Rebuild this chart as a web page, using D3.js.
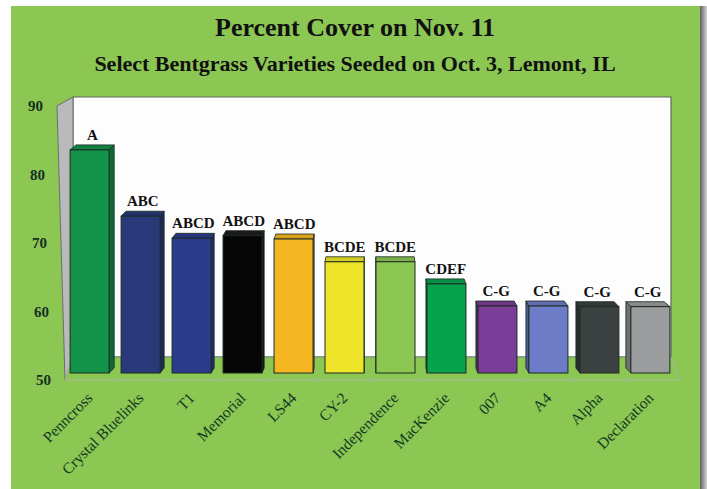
<!DOCTYPE html>
<html>
<head>
<meta charset="utf-8">
<script src="https://cdn.jsdelivr.net/npm/d3@7"></script>
<style>
  html, body { margin: 0; padding: 0; background: #fff; }
  svg { display: block; }
</style>
</head>
<body>
<div id="chart"></div>
<script>
// values
const varieties = ['Penncross', 'Crystal Bluelinks', 'T1', 'Memorial', 'LS44', 'CY-2',
                   'Independence', 'MacKenzie', '007', 'A4', 'Alpha', 'Declaration'];
const cover = [83.3, 73.4, 70.1, 70.5, 70.0, 66.6, 66.6, 63.3, 60.0, 60.0, 59.9, 59.9];
const letters = ['A', 'ABC', 'ABCD', 'ABCD', 'ABCD', 'BCDE', 'BCDE', 'CDEF', 'C-G', 'C-G', 'C-G', 'C-G'];
const yTicks = [50, 60, 70, 80, 90];

const palette = ['#13924a', '#29397a', '#2b3c8c', '#050505', '#f6b622', '#eee52a',
                 '#8cc653', '#06a34d', '#7a3d98', '#6c7cc6', '#3a4140', '#9a9c9d'];

const W = 707, H = 489;
const green = '#8cc653';
const serif = '"Liberation Serif", "Times New Roman", serif';

const svg = d3.select('#chart').append('svg')
  .attr('width', W).attr('height', H);

// panel + shadow
const defs = svg.append('defs');
const grad = defs.append('linearGradient').attr('id', 'shade');
grad.append('stop').attr('offset', '0%').attr('stop-color', '#4e504e');
grad.append('stop').attr('offset', '100%').attr('stop-color', '#d4d4d4');

svg.append('rect').attr('width', W).attr('height', H).attr('fill', '#fff');
svg.append('rect').attr('x', 699).attr('y', 6).attr('width', 8).attr('height', H - 6)
  .attr('fill', 'url(#shade)');
svg.append('rect').attr('x', 11).attr('y', 6).attr('width', 689).attr('height', H - 6)
  .attr('fill', green);

// titles
svg.append('text')
  .attr('x', 355).attr('y', 36)
  .attr('text-anchor', 'middle')
  .style('font-family', serif).style('font-weight', 'bold').style('font-size', '26px')
  .attr('fill', '#111')
  .text('Percent Cover on Nov. 11');

svg.append('text')
  .attr('x', 355).attr('y', 71)
  .attr('text-anchor', 'middle')
  .style('font-family', serif).style('font-weight', 'bold').style('font-size', '22px')
  .attr('fill', '#111')
  .text('Select Bentgrass Varieties Seeded on Oct. 3, Lemont, IL');

// 3d box: back wall, left wall, floor
const back = { x0: 73, x1: 671, top: 97, bottom: 357 };
const front = { x0: 65, x1: 680, bottom: 380 };

const yFront = d3.scaleLinear().domain([50, 90]).range([380, 106]);
const yBar = d3.scaleLinear().domain([50, 90]).range([373, 105]);

const x = d3.scaleBand()
  .domain(varieties)
  .range([64, 676])
  .paddingInner(0.235)
  .paddingOuter(0.12);

const line = d3.line();

svg.append('path')
  .attr('d', line([[back.x0, back.top], [back.x1, back.top], [back.x1, back.bottom], [back.x0, back.bottom]]) + 'Z')
  .attr('fill', '#fdfdfd').attr('stroke', '#5d6b5f').attr('stroke-width', 1.2);

svg.append('path')
  .attr('d', line([[57, 106], [back.x0, back.top], [back.x0, back.bottom], [front.x0, front.bottom]]) + 'Z')
  .attr('fill', '#b9babb').attr('stroke', '#6b6f6c').attr('stroke-width', 1);

svg.append('path')
  .attr('d', line([[back.x0, back.bottom], [back.x1, back.bottom], [front.x1, front.bottom], [front.x0, front.bottom]]) + 'Z')
  .attr('fill', green).attr('stroke', '#a9b8a6').attr('stroke-width', 1);

svg.append('line')
  .attr('x1', back.x0).attr('x2', back.x1).attr('y1', back.bottom).attr('y2', back.bottom)
  .attr('stroke', '#6f8a68').attr('stroke-width', 1);

// category ticks on the front floor edge
const step = x.step();
svg.append('g').selectAll('line')
  .data(varieties.slice(0, -1))
  .enter().append('line')
  .attr('x1', d => x(d) + x.bandwidth() + (step - x.bandwidth()) / 2)
  .attr('x2', d => x(d) + x.bandwidth() + (step - x.bandwidth()) / 2)
  .attr('y1', front.bottom).attr('y2', front.bottom + 3)
  .attr('stroke', '#a9b8a6');

// y labels follow the slanted front edge of the side wall
const edgeX = d3.scaleLinear().domain([106, 380]).range([57, 65]);
svg.append('g').selectAll('text')
  .data(yTicks)
  .enter().append('text')
  .attr('x', d => edgeX(yFront(d)) - 14)
  .attr('y', d => yFront(d) + 5)
  .attr('text-anchor', 'end')
  .style('font-family', serif).style('font-weight', 'bold').style('font-size', '15px')
  .attr('fill', '#14301f')
  .text(d => d);

// bars, drawn with a small perspective shift toward a vanishing x
const vx = 372, k = 0.0193, depthY = -5;
const shift = px => (vx - px) * k;

const bars = svg.append('g').selectAll('g')
  .data(varieties.map((v, i) => ({ name: v, value: cover[i], letter: letters[i], color: palette[i] })))
  .enter().append('g');

bars.each(function (d) {
  const g = d3.select(this);
  const x0 = x(d.name), x1 = x0 + x.bandwidth();
  const yt = yBar(d.value), yb = yBar(50);
  const d0 = shift(x0), d1 = shift(x1);
  const c = d3.color(d.color);
  const topCol = d.name === 'Memorial' ? '#1a1a1a' : c.darker(0.35);
  const sideCol = d.name === 'Memorial' ? '#111' : c.darker(0.9);

  // side face
  if (d1 > 0) {
    g.append('path')
      .attr('d', line([[x1, yt], [x1 + d1, yt + depthY], [x1 + d1, yb + depthY], [x1, yb]]) + 'Z')
      .attr('fill', sideCol).attr('stroke', '#1c2a22').attr('stroke-width', 0.8);
  }
  if (d0 < 0) {
    g.append('path')
      .attr('d', line([[x0, yt], [x0 + d0, yt + depthY], [x0 + d0, yb + depthY], [x0, yb]]) + 'Z')
      .attr('fill', sideCol).attr('stroke', '#1c2a22').attr('stroke-width', 0.8);
  }
  // top face
  g.append('path')
    .attr('d', line([[x0, yt], [x1, yt], [x1 + d1, yt + depthY], [x0 + d0, yt + depthY]]) + 'Z')
    .attr('fill', topCol).attr('stroke', '#1c2a22').attr('stroke-width', 0.8);
  // front face
  g.append('rect')
    .attr('x', x0).attr('y', yt)
    .attr('width', x.bandwidth()).attr('height', yb - yt)
    .attr('fill', d.color).attr('stroke', '#1c2a22').attr('stroke-width', 1);

  // significance letters
  g.append('text')
    .attr('x', x0 + x.bandwidth() / 2 + (d0 + d1) / 4)
    .attr('y', yt + depthY - 5)
    .attr('text-anchor', 'middle')
    .style('font-family', serif).style('font-weight', 'bold').style('font-size', '15px')
    .attr('fill', '#111')
    .text(d.letter);
});

// rotated category labels
svg.append('g').selectAll('text')
  .data(varieties)
  .enter().append('text')
  .attr('transform', d => 'translate(' + (x(d) + x.bandwidth() / 2 + 4) + ',399) rotate(-45)')
  .attr('text-anchor', 'end')
  .style('font-family', serif).style('font-size', '15.5px')
  .attr('fill', '#123821')
  .text(d => d);
</script>
</body>
</html>
